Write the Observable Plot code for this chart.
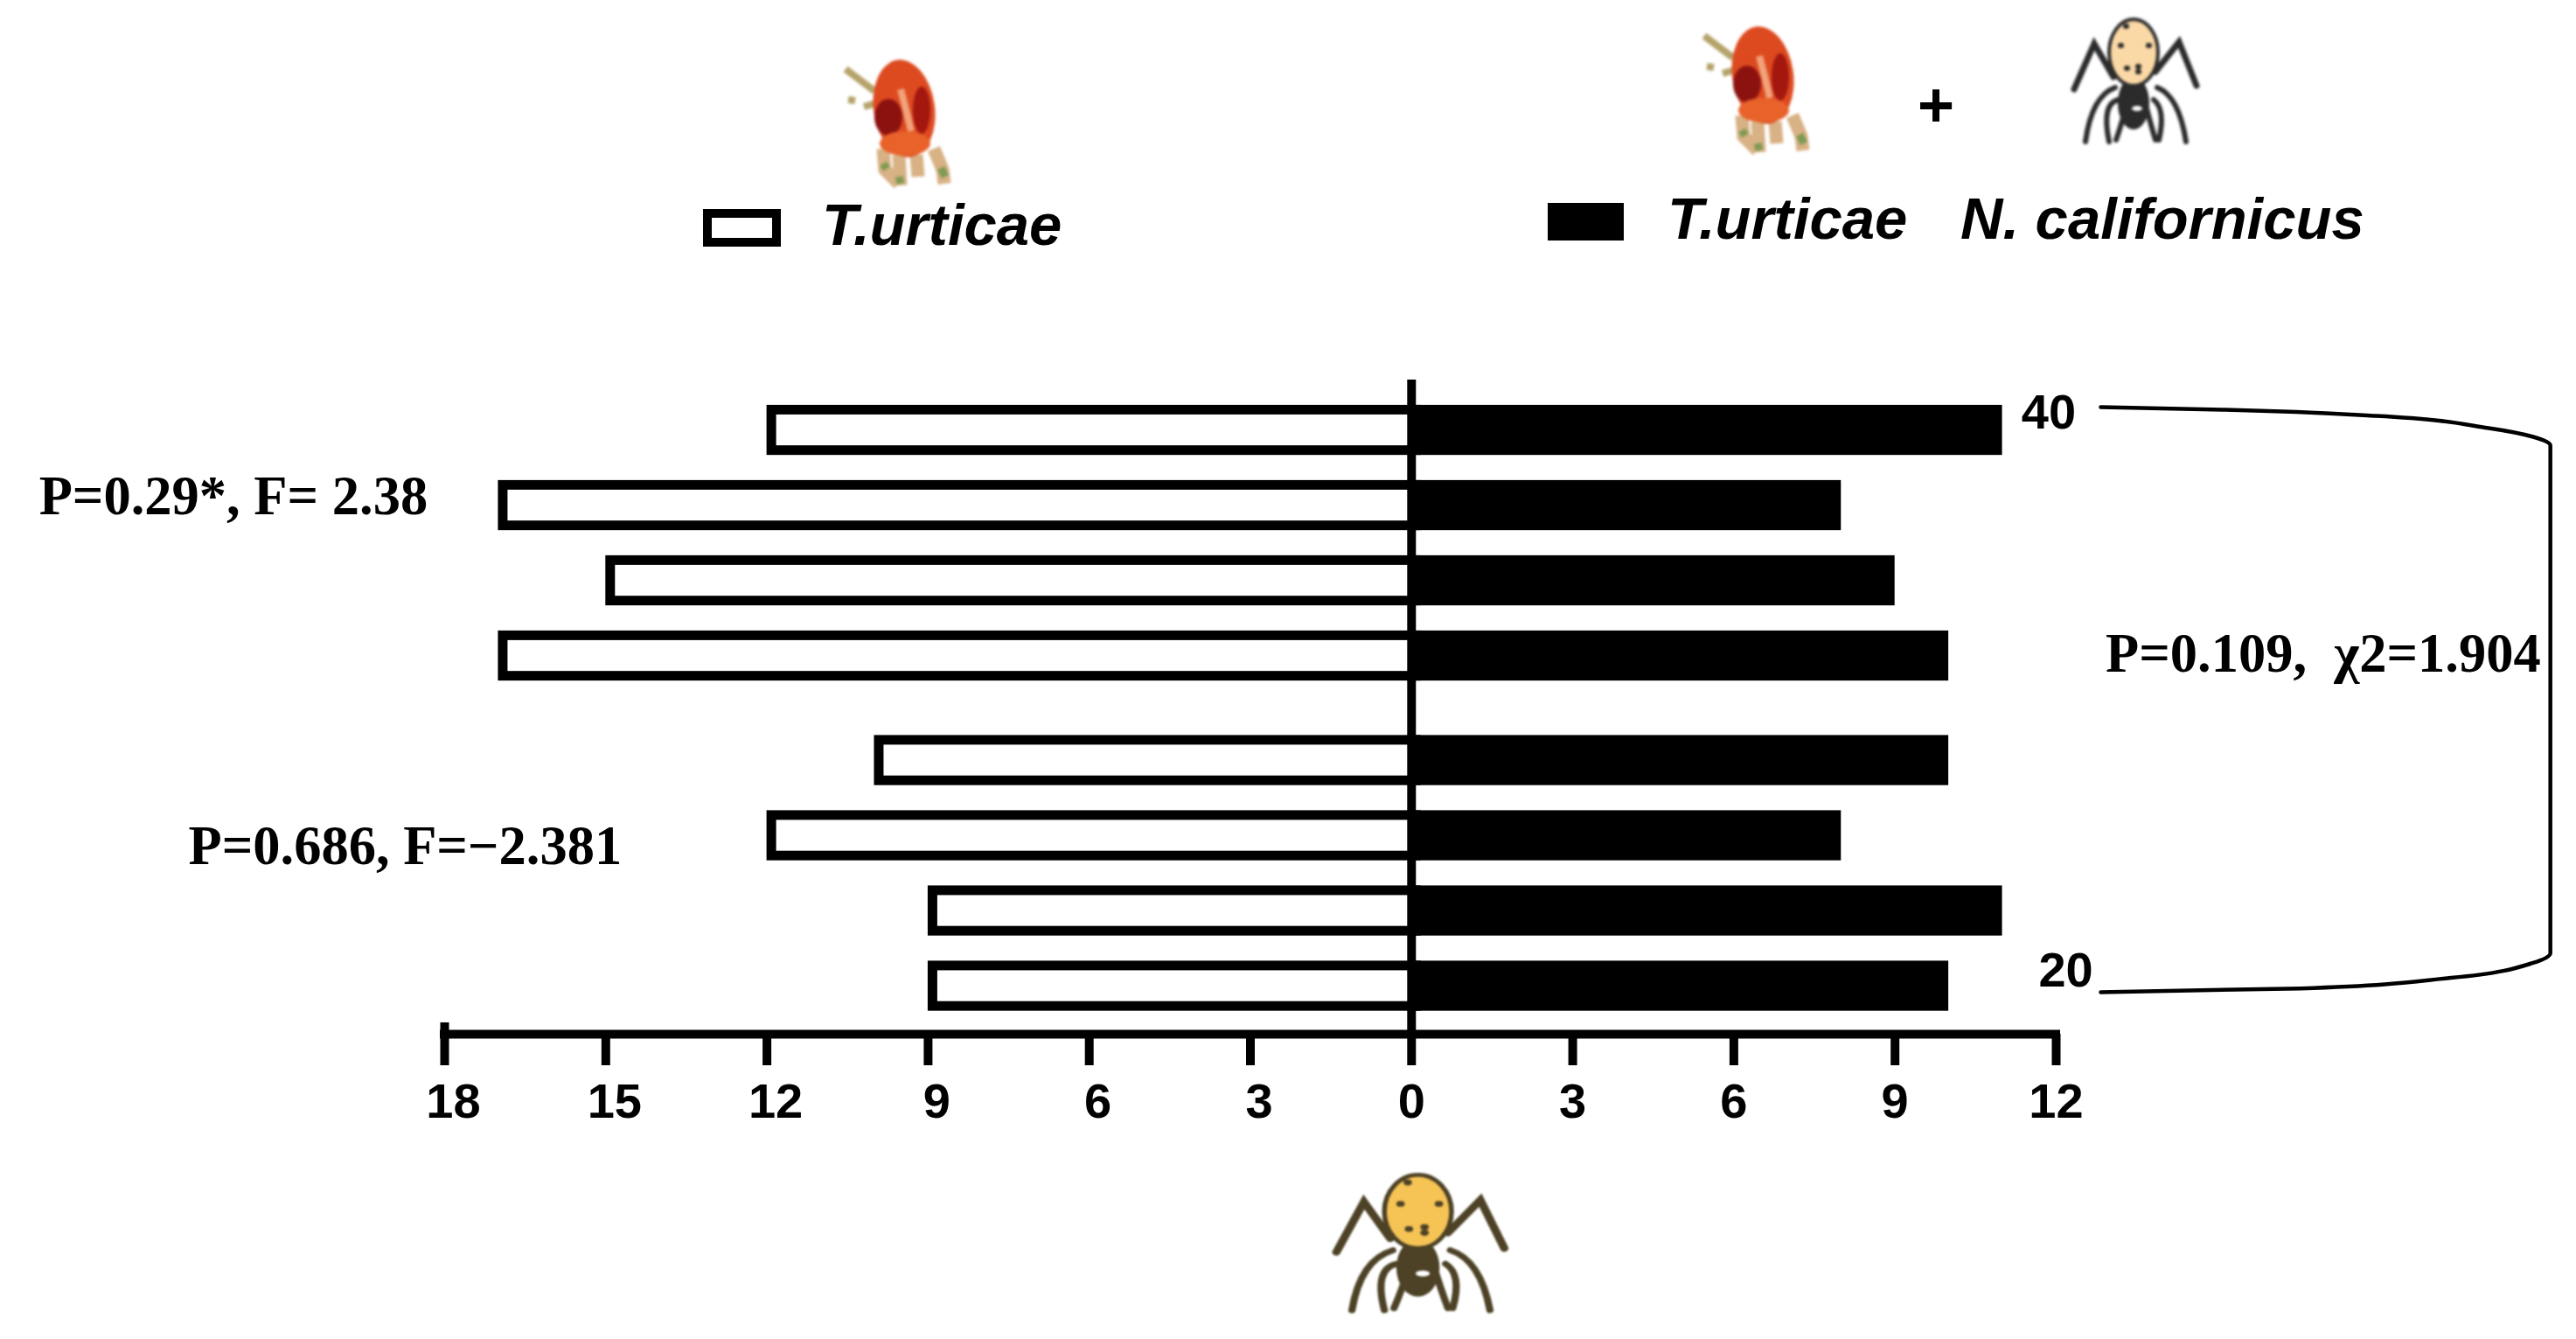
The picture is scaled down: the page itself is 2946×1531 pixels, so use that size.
<!DOCTYPE html>
<html>
<head>
<meta charset="utf-8">
<script src="https://cdn.jsdelivr.net/npm/d3@7"></script>
<script src="https://cdn.jsdelivr.net/npm/@observablehq/plot@0.6"></script>
<style>
  html, body { margin: 0; padding: 0; background: #fff; overflow: hidden; }
  #page { position: relative; width: 2946px; height: 1531px; }
  #legend { position: relative; width: 2946px; height: 400px; }
  #chart { width: 2946px; height: 940px; }
  #chart svg { display: block; max-width: none; }
  #foot { position: relative; width: 2946px; height: 191px; }
  .lab { position: absolute; font: italic bold 67px/1 "Liberation Sans", sans-serif; color: #000; white-space: nowrap; }
  .plus { position: absolute; font: bold 72px/1 "Liberation Sans", sans-serif; color: #000; }
  .sw { position: absolute; box-sizing: border-box; }
  .ill { position: absolute; filter: blur(1.5px); overflow: visible; }
</style>
</head>
<body>
<div id="page">
  <div id="legend">
    <svg class="ill" style="left:950px;top:52px" width="160" height="170" viewBox="0 0 160 170"><use href="#mite"/></svg>
    <svg class="ill" style="left:1932px;top:14px" width="160" height="170" viewBox="0 0 160 170"><use href="#mite"/></svg>
    <svg class="ill" style="left:2347px;top:10px" width="180" height="170" viewBox="0 0 180 170"><use href="#spider" style="--b:#fbd9a6;--l:#2b2b2b"/></svg>
    <div class="sw" style="left:804px;top:239px;width:89px;height:43px;border:10px solid #000;background:#fff"></div>
    <div class="lab" style="left:940px;top:223px">T.urticae</div>
    <div class="plus" style="left:2193px;top:84px">+</div>
    <div class="sw" style="left:1770px;top:232px;width:87px;height:43px;background:#000"></div>
    <div class="lab" style="left:1907px;top:216px">T.urticae</div>
    <div class="lab" style="left:2242px;top:216px">N. californicus</div>
  </div>
  <div id="chart"></div>
  <div id="foot">
    <svg class="ill" style="left:1494px;top:-10px;filter:blur(1.2px)" width="247" height="188" viewBox="0 0 180 170" preserveAspectRatio="none"><use href="#spider" style="--b:#f6c355;--l:#4d4226"/></svg>
  </div>
</div>
<svg width="0" height="0" style="position:absolute">
  <defs>
    <g id="mite">
      <path d="M17 27L50 52M20 62l8 1M38 70L52 66" stroke="#b5a36a" stroke-width="8" fill="none"/>
      <path d="M60 118L62 142L78 158M78 125L80 160M98 125L100 150M118 118L128 142L130 158" stroke="#d8b184" stroke-width="15" fill="none"/>
      <path d="M78 150l2 8M126 140l5 10M60 135l4 6" stroke="#7f9a52" stroke-width="9" fill="none"/>
      <ellipse cx="84" cy="72" rx="35" ry="56" transform="rotate(-8 84 72)" fill="#dd4a20"/>
      <ellipse cx="66" cy="82" rx="16" ry="21" fill="#8c1210"/>
      <ellipse cx="104" cy="74" rx="10" ry="27" fill="#a3170f"/>
      <path d="M80 50Q88 80 92 98" stroke="#f2a27a" stroke-width="8" fill="none"/>
      <ellipse cx="85" cy="112" rx="29" ry="14" fill="#e8622a"/>
    </g>
    <g id="spider" fill="none" stroke-linecap="round" style="stroke:var(--l)">
      <path d="M70 78L48 40L25 92M118 72L145 38L165 88" stroke-width="7"/>
      <path d="M72 90Q45 100 38 152M76 104Q56 108 65 152M86 106Q80 130 73 150M106 106Q112 130 118 150M116 104Q130 115 122 150M120 90Q145 100 153 152" stroke-width="6"/>
      <ellipse cx="93" cy="108" rx="18" ry="30" style="fill:var(--l)" stroke="none"/>
      <ellipse cx="93" cy="50" rx="28" ry="38" style="fill:var(--b)" stroke-width="4"/>
      <path d="M78 42h1M85 68h1M98 66h1M98 72h1M110 42h1M84 20h1" stroke-width="6"/>
      <ellipse cx="97" cy="114" rx="6" ry="3" fill="#fff" stroke="none"/>
    </g>
  </defs>
</svg>
<script>
// Bars, top to bottom: four at density 40, then four at density 20
const tUrticaeAlone = [12, 17, 15, 17, 10, 12, 9, 9];
const tUrticaeWithPredator = [11, 8, 9, 10, 10, 8, 11, 10];
const leftTicks = [-18, -15, -12, -9, -6, -3];
const rightTicks = [0, 3, 6, 9, 12];
const statsLeft = ["P=0.29*, F= 2.38", "P=0.686, F=\u22122.381"];
const statRight = "P=0.109,  \u03c72=1.904";
const densityLabels = ["40", "20"];

// Layout of the rows, in row units
const groupGap = 0.39, barHalf = 0.333, yTop = -0.669, yBase = 8.029, tickRise = 7.878;
const rowOf = (i) => i + (i >= 4 ? groupGap : 0);
const rows = tUrticaeAlone.map((alone, i) => ({
  alone, predator: tUrticaeWithPredator[i], row: rowOf(i)
}));

const bracket = [
  [12.83, -0.308], [15.15, -0.273], [17.95, -0.192], [20.05, -0.029], [20.88, 0.087], [21.2, 0.203],
  [21.2, 6.95], [20.88, 7.08], [19.35, 7.28], [16.55, 7.42], [12.83, 7.47]
];

const serif = { fontFamily: "Liberation Serif", fontWeight: "bold", fontSize: 62.5, fill: "#000" };
const sans = { fontFamily: "Liberation Sans", fontWeight: "bold", fontSize: 56, fill: "#000" };

const chart = Plot.plot({
  width: 2946, height: 940,
  marginTop: 34, marginBottom: 158, marginLeft: 508, marginRight: 595,
  style: { background: "#fff", color: "#000" },
  x: { domain: [-18, 12], label: null },
  y: { domain: [yBase, yTop], axis: null },
  marks: [
    Plot.rect(rows, {
      x1: (d) => -d.alone, x2: () => 0,
      y1: (d) => d.row - barHalf, y2: (d) => d.row + barHalf,
      fill: "#fff", stroke: "#000", strokeWidth: 11,
      insetTop: 5.5, insetBottom: 5.5, insetLeft: 5.5, insetRight: -5.5
    }),
    Plot.rect(rows, {
      x1: () => 0, x2: (d) => d.predator,
      y1: (d) => d.row - barHalf, y2: (d) => d.row + barHalf,
      fill: "#000"
    }),
    Plot.ruleX([0], { y1: yTop, y2: yBase, stroke: "#000", strokeWidth: 10 }),
    Plot.ruleY([yBase], { x1: -18, x2: 12, stroke: "#000", strokeWidth: 10, strokeLinecap: "square" }),
    Plot.ruleX([-18], { y1: tickRise, y2: yBase, stroke: "#000", strokeWidth: 10 }),
    Plot.axisX([...leftTicks, ...rightTicks], { anchor: "bottom", tickSize: 36, strokeWidth: 10, tickFormat: () => "", label: null }),
    Plot.axisX(leftTicks, { anchor: "bottom", tickSize: 0, tickPadding: 56, dx: 10, tickFormat: (d) => Math.abs(d), label: null, ...sans }),
    Plot.axisX(rightTicks, { anchor: "bottom", tickSize: 0, tickPadding: 56, tickFormat: (d) => d, label: null, ...sans }),
    Plot.text([statsLeft[0]], { x: () => -25.55, y: () => 0.878, text: (d) => d, textAnchor: "start", ...serif }),
    Plot.text([statsLeft[1]], { x: () => -22.77, y: () => 5.54, text: (d) => d, textAnchor: "start", ...serif }),
    Plot.text([statRight], { x: () => 12.92, y: () => 2.98, text: (d) => d, textAnchor: "start", ...serif }),
    Plot.text([densityLabels[0]], { x: () => 11.86, y: () => -0.227, text: (d) => d, ...sans }),
    Plot.text([densityLabels[1]], { x: () => 12.18, y: () => 7.19, text: (d) => d, ...sans }),
    Plot.line(bracket, { x: (d) => d[0], y: (d) => d[1], stroke: "#000", strokeWidth: 4.5, curve: "monotone-y" })
  ]
});
document.getElementById("chart").appendChild(chart);
</script>
</body>
</html>
